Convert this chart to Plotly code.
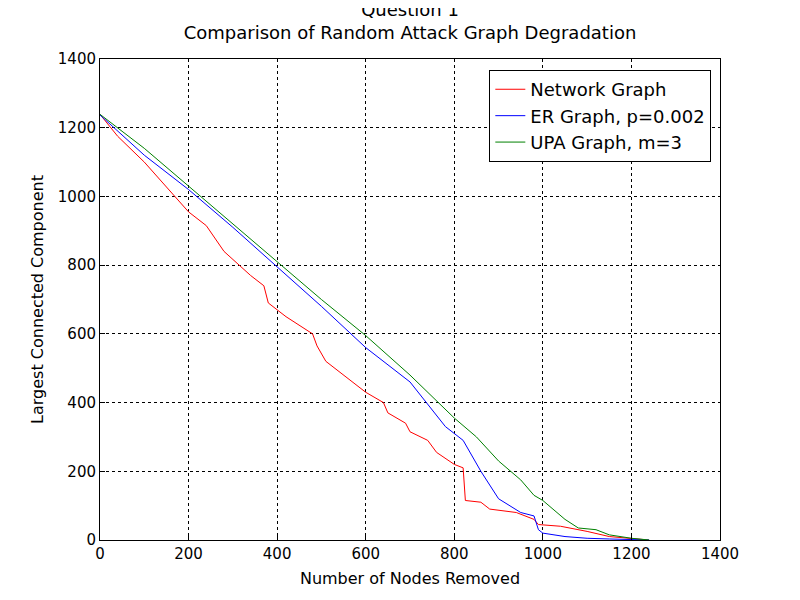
import plotly.graph_objects as go

net_x = [0,40,100,190,200,240,280,340,370,380,420,480,490,510,550,600,640,650,690,700,740,760,800,820,825,860,880,940,980,990,1040,1100,1150,1200,1239]
net_y = [1239,1175,1100,970,955,915,840,770,740,690,650,600,565,520,480,430,400,370,340,315,290,255,220,210,115,110,90,80,60,45,40,25,10,5,0]
er_x = [0,100,200,300,400,500,600,700,780,820,860,900,950,980,990,1000,1050,1100,1150,1240]
er_y = [1237,1120,1020,910,795,680,560,460,330,290,200,120,80,70,30,20,10,5,3,0]
upa_x = [0,100,200,300,400,500,600,700,800,850,900,950,980,1000,1050,1080,1120,1150,1200,1240]
upa_y = [1239,1140,1030,920,810,700,595,480,355,300,230,175,130,115,60,35,30,15,5,0]

fig = go.Figure()
fig.add_trace(go.Scatter(x=net_x, y=net_y, mode="lines", line=dict(color="red", width=1), name="Network Graph"))
fig.add_trace(go.Scatter(x=er_x, y=er_y, mode="lines", line=dict(color="blue", width=1), name="ER Graph, p=0.002"))
fig.add_trace(go.Scatter(x=upa_x, y=upa_y, mode="lines", line=dict(color="green", width=1), name="UPA Graph, m=3"))

ax = dict(showline=True, linecolor="black", mirror=True, ticks="inside", tickcolor="black",
          showgrid=True, gridcolor="black", griddash="dot", gridwidth=0.5, zeroline=False,
          automargin=False,
          tickfont=dict(size=15, color="black"), title_font=dict(size=16, color="black"))
fig.update_layout(
    width=792, height=592, plot_bgcolor="white", paper_bgcolor="white",
    font=dict(family="DejaVu Sans", color="black"),
    margin=dict(l=92, r=80, t=51, b=60),
    title=dict(text="Question 1<br>Comparison of Random Attack Graph Degradation", x=0.5, xanchor="center",
               xref="paper", yref="container", y=1, yanchor="top", pad=dict(t=8), font=dict(size=18)),
    xaxis=dict(range=[0,1400], dtick=200, title=dict(text="Number of Nodes Removed", standoff=10), **ax),
    yaxis=dict(range=[0,1400], dtick=200, title=dict(text="Largest Connected Component", standoff=10), **ax),
    legend=dict(x=0.986, y=0.977, xanchor="right", yanchor="top", bordercolor="black", borderwidth=1,
                bgcolor="white", font=dict(size=18)),
)
fig.write_html("out.html")
